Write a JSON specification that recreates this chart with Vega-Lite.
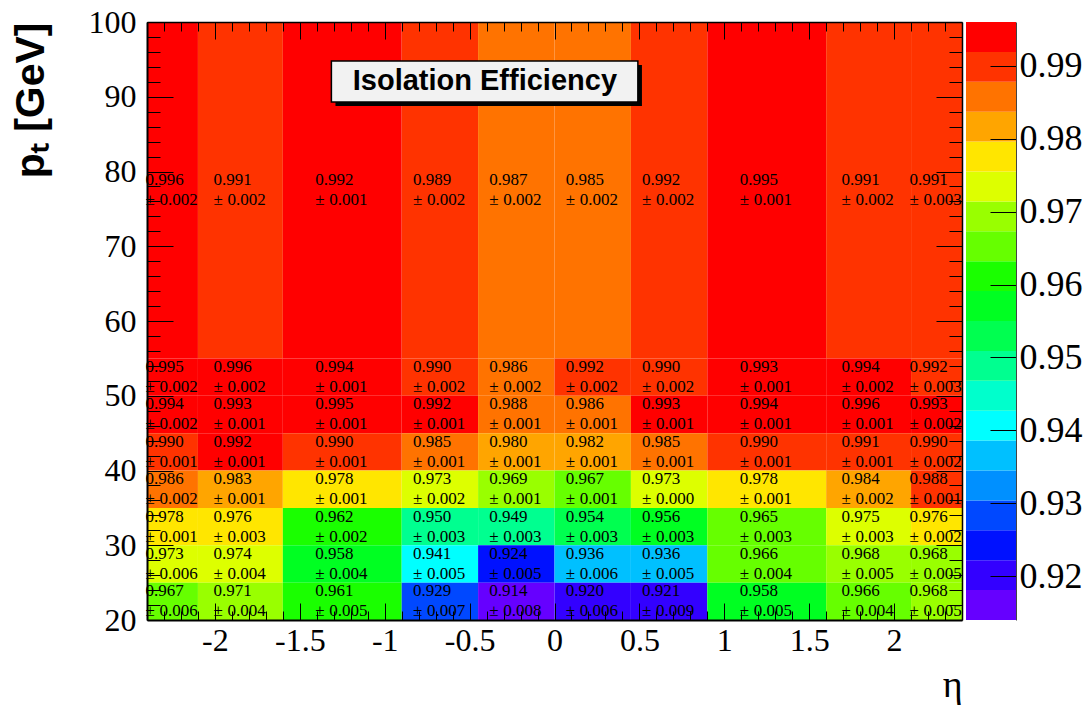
{
  "$schema": "https://vega.github.io/schema/vega-lite/v6.json",
  "background": "white",
  "padding": {"left": 10, "top": 6, "right": 5, "bottom": 5},
  "bounds": "flush",
  "spacing": 4,
  "config": {"view": {"stroke": null}, "axis": {"grid": false, "labelOverlap": false, "labelFlush": false, "tickColor": "black", "domainColor": "black", "labelColor": "black", "titleColor": "black", "labelFont": "Liberation Serif", "zindex": 2}},
  "datasets": {
    "cells": [
      {"e0": -2.4, "e1": -2.1, "ec": -2.25, "p0": 55, "p1": 100, "pc": 77.5, "v": 0.996, "er": 0.002},
      {"e0": -2.1, "e1": -1.6, "ec": -1.85, "p0": 55, "p1": 100, "pc": 77.5, "v": 0.991, "er": 0.002},
      {"e0": -1.6, "e1": -0.9, "ec": -1.25, "p0": 55, "p1": 100, "pc": 77.5, "v": 0.9922, "er": 0.001},
      {"e0": -0.9, "e1": -0.45, "ec": -0.675, "p0": 55, "p1": 100, "pc": 77.5, "v": 0.989, "er": 0.002},
      {"e0": -0.45, "e1": 0, "ec": -0.225, "p0": 55, "p1": 100, "pc": 77.5, "v": 0.987, "er": 0.002},
      {"e0": 0, "e1": 0.45, "ec": 0.225, "p0": 55, "p1": 100, "pc": 77.5, "v": 0.985, "er": 0.002},
      {"e0": 0.45, "e1": 0.9, "ec": 0.675, "p0": 55, "p1": 100, "pc": 77.5, "v": 0.9917, "er": 0.002},
      {"e0": 0.9, "e1": 1.6, "ec": 1.25, "p0": 55, "p1": 100, "pc": 77.5, "v": 0.995, "er": 0.001},
      {"e0": 1.6, "e1": 2.1, "ec": 1.85, "p0": 55, "p1": 100, "pc": 77.5, "v": 0.991, "er": 0.002},
      {"e0": 2.1, "e1": 2.4, "ec": 2.25, "p0": 55, "p1": 100, "pc": 77.5, "v": 0.991, "er": 0.003},

      {"e0": -2.4, "e1": -2.1, "ec": -2.25, "p0": 50, "p1": 55, "pc": 52.5, "v": 0.995, "er": 0.002},
      {"e0": -2.1, "e1": -1.6, "ec": -1.85, "p0": 50, "p1": 55, "pc": 52.5, "v": 0.996, "er": 0.002},
      {"e0": -1.6, "e1": -0.9, "ec": -1.25, "p0": 50, "p1": 55, "pc": 52.5, "v": 0.994, "er": 0.001},
      {"e0": -0.9, "e1": -0.45, "ec": -0.675, "p0": 50, "p1": 55, "pc": 52.5, "v": 0.990, "er": 0.002},
      {"e0": -0.45, "e1": 0, "ec": -0.225, "p0": 50, "p1": 55, "pc": 52.5, "v": 0.986, "er": 0.002},
      {"e0": 0, "e1": 0.45, "ec": 0.225, "p0": 50, "p1": 55, "pc": 52.5, "v": 0.9917, "er": 0.002},
      {"e0": 0.45, "e1": 0.9, "ec": 0.675, "p0": 50, "p1": 55, "pc": 52.5, "v": 0.990, "er": 0.002},
      {"e0": 0.9, "e1": 1.6, "ec": 1.25, "p0": 50, "p1": 55, "pc": 52.5, "v": 0.993, "er": 0.001},
      {"e0": 1.6, "e1": 2.1, "ec": 1.85, "p0": 50, "p1": 55, "pc": 52.5, "v": 0.994, "er": 0.002},
      {"e0": 2.1, "e1": 2.4, "ec": 2.25, "p0": 50, "p1": 55, "pc": 52.5, "v": 0.9917, "er": 0.003},

      {"e0": -2.4, "e1": -2.1, "ec": -2.25, "p0": 45, "p1": 50, "pc": 47.5, "v": 0.994, "er": 0.002},
      {"e0": -2.1, "e1": -1.6, "ec": -1.85, "p0": 45, "p1": 50, "pc": 47.5, "v": 0.993, "er": 0.001},
      {"e0": -1.6, "e1": -0.9, "ec": -1.25, "p0": 45, "p1": 50, "pc": 47.5, "v": 0.995, "er": 0.001},
      {"e0": -0.9, "e1": -0.45, "ec": -0.675, "p0": 45, "p1": 50, "pc": 47.5, "v": 0.9922, "er": 0.001},
      {"e0": -0.45, "e1": 0, "ec": -0.225, "p0": 45, "p1": 50, "pc": 47.5, "v": 0.9876, "er": 0.001},
      {"e0": 0, "e1": 0.45, "ec": 0.225, "p0": 45, "p1": 50, "pc": 47.5, "v": 0.986, "er": 0.001},
      {"e0": 0.45, "e1": 0.9, "ec": 0.675, "p0": 45, "p1": 50, "pc": 47.5, "v": 0.993, "er": 0.001},
      {"e0": 0.9, "e1": 1.6, "ec": 1.25, "p0": 45, "p1": 50, "pc": 47.5, "v": 0.994, "er": 0.001},
      {"e0": 1.6, "e1": 2.1, "ec": 1.85, "p0": 45, "p1": 50, "pc": 47.5, "v": 0.996, "er": 0.001},
      {"e0": 2.1, "e1": 2.4, "ec": 2.25, "p0": 45, "p1": 50, "pc": 47.5, "v": 0.993, "er": 0.002},

      {"e0": -2.4, "e1": -2.1, "ec": -2.25, "p0": 40, "p1": 45, "pc": 42.5, "v": 0.990, "er": 0.001},
      {"e0": -2.1, "e1": -1.6, "ec": -1.85, "p0": 40, "p1": 45, "pc": 42.5, "v": 0.9922, "er": 0.001},
      {"e0": -1.6, "e1": -0.9, "ec": -1.25, "p0": 40, "p1": 45, "pc": 42.5, "v": 0.990, "er": 0.001},
      {"e0": -0.9, "e1": -0.45, "ec": -0.675, "p0": 40, "p1": 45, "pc": 42.5, "v": 0.985, "er": 0.001},
      {"e0": -0.45, "e1": 0, "ec": -0.225, "p0": 40, "p1": 45, "pc": 42.5, "v": 0.980, "er": 0.001},
      {"e0": 0, "e1": 0.45, "ec": 0.225, "p0": 40, "p1": 45, "pc": 42.5, "v": 0.982, "er": 0.001},
      {"e0": 0.45, "e1": 0.9, "ec": 0.675, "p0": 40, "p1": 45, "pc": 42.5, "v": 0.985, "er": 0.001},
      {"e0": 0.9, "e1": 1.6, "ec": 1.25, "p0": 40, "p1": 45, "pc": 42.5, "v": 0.990, "er": 0.001},
      {"e0": 1.6, "e1": 2.1, "ec": 1.85, "p0": 40, "p1": 45, "pc": 42.5, "v": 0.991, "er": 0.001},
      {"e0": 2.1, "e1": 2.4, "ec": 2.25, "p0": 40, "p1": 45, "pc": 42.5, "v": 0.990, "er": 0.002},

      {"e0": -2.4, "e1": -2.1, "ec": -2.25, "p0": 35, "p1": 40, "pc": 37.5, "v": 0.986, "er": 0.002},
      {"e0": -2.1, "e1": -1.6, "ec": -1.85, "p0": 35, "p1": 40, "pc": 37.5, "v": 0.983, "er": 0.001},
      {"e0": -1.6, "e1": -0.9, "ec": -1.25, "p0": 35, "p1": 40, "pc": 37.5, "v": 0.978, "er": 0.001},
      {"e0": -0.9, "e1": -0.45, "ec": -0.675, "p0": 35, "p1": 40, "pc": 37.5, "v": 0.973, "er": 0.002},
      {"e0": -0.45, "e1": 0, "ec": -0.225, "p0": 35, "p1": 40, "pc": 37.5, "v": 0.969, "er": 0.001},
      {"e0": 0, "e1": 0.45, "ec": 0.225, "p0": 35, "p1": 40, "pc": 37.5, "v": 0.967, "er": 0.001},
      {"e0": 0.45, "e1": 0.9, "ec": 0.675, "p0": 35, "p1": 40, "pc": 37.5, "v": 0.973, "er": 0.000},
      {"e0": 0.9, "e1": 1.6, "ec": 1.25, "p0": 35, "p1": 40, "pc": 37.5, "v": 0.978, "er": 0.001},
      {"e0": 1.6, "e1": 2.1, "ec": 1.85, "p0": 35, "p1": 40, "pc": 37.5, "v": 0.9836, "er": 0.002},
      {"e0": 2.1, "e1": 2.4, "ec": 2.25, "p0": 35, "p1": 40, "pc": 37.5, "v": 0.988, "er": 0.001},

      {"e0": -2.4, "e1": -2.1, "ec": -2.25, "p0": 30, "p1": 35, "pc": 32.5, "v": 0.978, "er": 0.001},
      {"e0": -2.1, "e1": -1.6, "ec": -1.85, "p0": 30, "p1": 35, "pc": 32.5, "v": 0.976, "er": 0.003},
      {"e0": -1.6, "e1": -0.9, "ec": -1.25, "p0": 30, "p1": 35, "pc": 32.5, "v": 0.962, "er": 0.002},
      {"e0": -0.9, "e1": -0.45, "ec": -0.675, "p0": 30, "p1": 35, "pc": 32.5, "v": 0.950, "er": 0.003},
      {"e0": -0.45, "e1": 0, "ec": -0.225, "p0": 30, "p1": 35, "pc": 32.5, "v": 0.949, "er": 0.003},
      {"e0": 0, "e1": 0.45, "ec": 0.225, "p0": 30, "p1": 35, "pc": 32.5, "v": 0.954, "er": 0.003},
      {"e0": 0.45, "e1": 0.9, "ec": 0.675, "p0": 30, "p1": 35, "pc": 32.5, "v": 0.956, "er": 0.003},
      {"e0": 0.9, "e1": 1.6, "ec": 1.25, "p0": 30, "p1": 35, "pc": 32.5, "v": 0.965, "er": 0.003},
      {"e0": 1.6, "e1": 2.1, "ec": 1.85, "p0": 30, "p1": 35, "pc": 32.5, "v": 0.975, "er": 0.003},
      {"e0": 2.1, "e1": 2.4, "ec": 2.25, "p0": 30, "p1": 35, "pc": 32.5, "v": 0.976, "er": 0.002},

      {"e0": -2.4, "e1": -2.1, "ec": -2.25, "p0": 25, "p1": 30, "pc": 27.5, "v": 0.973, "er": 0.006},
      {"e0": -2.1, "e1": -1.6, "ec": -1.85, "p0": 25, "p1": 30, "pc": 27.5, "v": 0.974, "er": 0.004},
      {"e0": -1.6, "e1": -0.9, "ec": -1.25, "p0": 25, "p1": 30, "pc": 27.5, "v": 0.958, "er": 0.004},
      {"e0": -0.9, "e1": -0.45, "ec": -0.675, "p0": 25, "p1": 30, "pc": 27.5, "v": 0.941, "er": 0.005},
      {"e0": -0.45, "e1": 0, "ec": -0.225, "p0": 25, "p1": 30, "pc": 27.5, "v": 0.924, "er": 0.005},
      {"e0": 0, "e1": 0.45, "ec": 0.225, "p0": 25, "p1": 30, "pc": 27.5, "v": 0.936, "er": 0.006},
      {"e0": 0.45, "e1": 0.9, "ec": 0.675, "p0": 25, "p1": 30, "pc": 27.5, "v": 0.936, "er": 0.005},
      {"e0": 0.9, "e1": 1.6, "ec": 1.25, "p0": 25, "p1": 30, "pc": 27.5, "v": 0.966, "er": 0.004},
      {"e0": 1.6, "e1": 2.1, "ec": 1.85, "p0": 25, "p1": 30, "pc": 27.5, "v": 0.968, "er": 0.005},
      {"e0": 2.1, "e1": 2.4, "ec": 2.25, "p0": 25, "p1": 30, "pc": 27.5, "v": 0.968, "er": 0.005},

      {"e0": -2.4, "e1": -2.1, "ec": -2.25, "p0": 20, "p1": 25, "pc": 22.5, "v": 0.967, "er": 0.006},
      {"e0": -2.1, "e1": -1.6, "ec": -1.85, "p0": 20, "p1": 25, "pc": 22.5, "v": 0.971, "er": 0.004},
      {"e0": -1.6, "e1": -0.9, "ec": -1.25, "p0": 20, "p1": 25, "pc": 22.5, "v": 0.961, "er": 0.005},
      {"e0": -0.9, "e1": -0.45, "ec": -0.675, "p0": 20, "p1": 25, "pc": 22.5, "v": 0.929, "er": 0.007},
      {"e0": -0.45, "e1": 0, "ec": -0.225, "p0": 20, "p1": 25, "pc": 22.5, "v": 0.914, "er": 0.008},
      {"e0": 0, "e1": 0.45, "ec": 0.225, "p0": 20, "p1": 25, "pc": 22.5, "v": 0.920, "er": 0.006},
      {"e0": 0.45, "e1": 0.9, "ec": 0.675, "p0": 20, "p1": 25, "pc": 22.5, "v": 0.921, "er": 0.009},
      {"e0": 0.9, "e1": 1.6, "ec": 1.25, "p0": 20, "p1": 25, "pc": 22.5, "v": 0.958, "er": 0.005},
      {"e0": 1.6, "e1": 2.1, "ec": 1.85, "p0": 20, "p1": 25, "pc": 22.5, "v": 0.966, "er": 0.004},
      {"e0": 2.1, "e1": 2.4, "ec": 2.25, "p0": 20, "p1": 25, "pc": 22.5, "v": 0.968, "er": 0.005}
    ],
    "bands": [
      {"lo": 0.914, "hi": 0.9181, "m": 0.91605},
      {"lo": 0.9181, "hi": 0.9222, "m": 0.92015},
      {"lo": 0.9222, "hi": 0.9263, "m": 0.92425},
      {"lo": 0.9263, "hi": 0.9304, "m": 0.92835},
      {"lo": 0.9304, "hi": 0.9345, "m": 0.93245},
      {"lo": 0.9345, "hi": 0.9386, "m": 0.93655},
      {"lo": 0.9386, "hi": 0.9427, "m": 0.94065},
      {"lo": 0.9427, "hi": 0.9468, "m": 0.94475},
      {"lo": 0.9468, "hi": 0.9509, "m": 0.94885},
      {"lo": 0.9509, "hi": 0.955, "m": 0.95295},
      {"lo": 0.955, "hi": 0.9591, "m": 0.95705},
      {"lo": 0.9591, "hi": 0.9632, "m": 0.96115},
      {"lo": 0.9632, "hi": 0.9673, "m": 0.96525},
      {"lo": 0.9673, "hi": 0.9714, "m": 0.96935},
      {"lo": 0.9714, "hi": 0.9755, "m": 0.97345},
      {"lo": 0.9755, "hi": 0.9796, "m": 0.97755},
      {"lo": 0.9796, "hi": 0.9837, "m": 0.98165},
      {"lo": 0.9837, "hi": 0.9878, "m": 0.98575},
      {"lo": 0.9878, "hi": 0.9919, "m": 0.98985},
      {"lo": 0.9919, "hi": 0.996, "m": 0.99395}
    ],
    "shadow": [{"x1": -1.29, "x2": 0.515, "y1": 88.77, "y2": 94.25}],
    "box": [{"x1": -1.314, "x2": 0.491, "y1": 89.3, "y2": 94.78}],
    "label": [{"x": -0.41, "y": 92.05, "t": "Isolation Efficiency"}]
  },
  "hconcat": [
    {
      "width": 815,
      "height": 598,
      "data": {"name": "cells"},
      "layer": [
        {
          "mark": {"type": "rect"},
          "encoding": {
            "x": {"field": "e0", "type": "quantitative", "scale": {"domain": [-2.4, 2.4], "nice": false, "zero": false},
              "axis": {"orient": "bottom", "values": [-2, -1.5, -1, -0.5, 0, 0.5, 1, 1.5, 2], "labelExpr": "'' + datum.value", "tickSize": -17, "labelPadding": 22, "labelFont": "Liberation Serif", "labelFontSize": 32, "domainWidth": 2, "zindex": 2, "title": "η", "titleFont": "Liberation Serif", "titleFontSize": 38, "titleFontWeight": "normal", "titleAnchor": "end", "titlePadding": 10}},
            "x2": {"field": "e1"},
            "y": {"field": "p0", "type": "quantitative", "scale": {"domain": [20, 100], "nice": false, "zero": false},
              "axis": {"orient": "left", "values": [20, 30, 40, 50, 60, 70, 80, 90, 100], "labelExpr": "'' + datum.value", "tickSize": -26, "labelPadding": 37, "labelFont": "Liberation Serif", "labelFontSize": 32, "domainWidth": 2, "zindex": 2, "title": "pₜ [GeV]", "titleFont": "Liberation Sans", "titleFontSize": 41, "titleFontWeight": "bold", "titleAnchor": "end", "titlePadding": 36}},
            "y2": {"field": "p1"},
            "color": {"field": "v", "type": "quantitative", "legend": null,
              "scale": {"type": "quantize", "domain": [0.914, 0.996], "range": ["#6600ff", "#3300ff", "#0011ff", "#0048ff", "#0090ff", "#00c0ff", "#00ffff", "#00ffcc", "#00ff90", "#00ff50", "#00ff22", "#1aff00", "#66ff00", "#99ff00", "#ddff00", "#ffe600", "#ffa500", "#ff7300", "#ff3300", "#ff0000"]}}
          }
        },
        {
          "mark": {"type": "text", "align": "left", "baseline": "middle", "dx": -27, "dy": -10, "font": "Liberation Serif", "fontSize": 17, "color": "black"},
          "encoding": {
            "x": {"field": "ec", "type": "quantitative", "axis": {"orient": "bottom", "values": [-2.4, -2.3, -2.2, -2.1, -1.9, -1.8, -1.7, -1.6, -1.4, -1.3, -1.2, -1.1, -0.9, -0.8, -0.7, -0.6, -0.4, -0.3, -0.2, -0.1, 0.1, 0.2, 0.3, 0.4, 0.6, 0.7, 0.8, 0.9, 1.1, 1.2, 1.3, 1.4, 1.6, 1.7, 1.8, 1.9, 2.1, 2.2, 2.3], "tickSize": -9, "labels": false, "domain": false, "zindex": 2, "title": null}},
            "y": {"field": "pc", "type": "quantitative", "axis": {"orient": "left", "values": [22, 24, 26, 28, 32, 34, 36, 38, 42, 44, 46, 48, 52, 54, 56, 58, 62, 64, 66, 68, 72, 74, 76, 78, 82, 84, 86, 88, 92, 94, 96, 98], "tickSize": -13, "labels": false, "domain": false, "zindex": 2, "title": null}},
            "text": {"field": "v", "type": "quantitative", "format": ".3f"}
          }
        },
        {
          "mark": {"type": "text", "align": "left", "baseline": "middle", "dx": -27, "dy": 10, "font": "Liberation Serif", "fontSize": 17, "color": "black"},
          "encoding": {
            "x": {"field": "ec", "type": "quantitative", "axis": {"orient": "top", "values": [-2, -1.5, -1, -0.5, 0, 0.5, 1, 1.5, 2], "tickSize": -17, "labels": false, "domainWidth": 1.5, "zindex": 2, "title": null}},
            "y": {"field": "pc", "type": "quantitative", "axis": {"orient": "right", "values": [20, 30, 40, 50, 60, 70, 80, 90, 100], "tickSize": -26, "labels": false, "domainWidth": 1.5, "zindex": 2, "title": null}},
            "text": {"value": "±"}
          }
        },
        {
          "mark": {"type": "text", "align": "left", "baseline": "middle", "dx": -13, "dy": 10, "font": "Liberation Serif", "fontSize": 17, "color": "black"},
          "encoding": {
            "x": {"field": "ec", "type": "quantitative", "axis": {"orient": "top", "values": [-2.4, -2.3, -2.2, -2.1, -1.9, -1.8, -1.7, -1.6, -1.4, -1.3, -1.2, -1.1, -0.9, -0.8, -0.7, -0.6, -0.4, -0.3, -0.2, -0.1, 0.1, 0.2, 0.3, 0.4, 0.6, 0.7, 0.8, 0.9, 1.1, 1.2, 1.3, 1.4, 1.6, 1.7, 1.8, 1.9, 2.1, 2.2, 2.3], "tickSize": -9, "labels": false, "domain": false, "zindex": 2, "title": null}},
            "y": {"field": "pc", "type": "quantitative", "axis": {"orient": "right", "values": [22, 24, 26, 28, 32, 34, 36, 38, 42, 44, 46, 48, 52, 54, 56, 58, 62, 64, 66, 68, 72, 74, 76, 78, 82, 84, 86, 88, 92, 94, 96, 98], "tickSize": -13, "labels": false, "domain": false, "zindex": 2, "title": null}},
            "text": {"field": "er", "type": "quantitative", "format": ".3f"}
          }
        },
        {
          "data": {"name": "shadow"},
          "mark": {"type": "rect", "color": "black"},
          "encoding": {
            "x": {"field": "x1", "type": "quantitative", "axis": null},
            "x2": {"field": "x2"},
            "y": {"field": "y1", "type": "quantitative", "axis": null},
            "y2": {"field": "y2"}
          }
        },
        {
          "data": {"name": "box"},
          "mark": {"type": "rect", "fill": "#f2f2f2", "stroke": "black", "strokeWidth": 1.5},
          "encoding": {
            "x": {"field": "x1", "type": "quantitative", "axis": null},
            "x2": {"field": "x2"},
            "y": {"field": "y1", "type": "quantitative", "axis": null},
            "y2": {"field": "y2"}
          }
        },
        {
          "data": {"name": "label"},
          "mark": {"type": "text", "align": "center", "baseline": "middle", "font": "Liberation Sans", "fontWeight": "bold", "fontSize": 29, "color": "black"},
          "encoding": {
            "x": {"field": "x", "type": "quantitative", "axis": null},
            "y": {"field": "y", "type": "quantitative", "axis": null},
            "text": {"field": "t"}
          }
        }
      ],
      "resolve": {"axis": {"x": "independent", "y": "independent"}}
    },
    {
      "width": 50,
      "height": 598,
      "data": {"name": "bands"},
      "mark": {"type": "rect"},
      "encoding": {
        "y": {"field": "lo", "type": "quantitative", "scale": {"domain": [0.914, 0.996], "nice": false, "zero": false},
          "axis": {"orient": "right", "values": [0.92, 0.93, 0.94, 0.95, 0.96, 0.97, 0.98, 0.99], "format": ".2f", "tickSize": -26, "labelPadding": 29, "labelFont": "Liberation Serif", "labelFontSize": 36, "domainColor": "#444444", "domainWidth": 1, "zindex": 2, "title": null}},
        "y2": {"field": "hi"},
        "color": {"field": "m", "type": "quantitative", "legend": null,
          "scale": {"type": "quantize", "domain": [0.914, 0.996], "range": ["#6600ff", "#3300ff", "#0011ff", "#0048ff", "#0090ff", "#00c0ff", "#00ffff", "#00ffcc", "#00ff90", "#00ff50", "#00ff22", "#1aff00", "#66ff00", "#99ff00", "#ddff00", "#ffe600", "#ffa500", "#ff7300", "#ff3300", "#ff0000"]}}
      }
    }
  ]
}
